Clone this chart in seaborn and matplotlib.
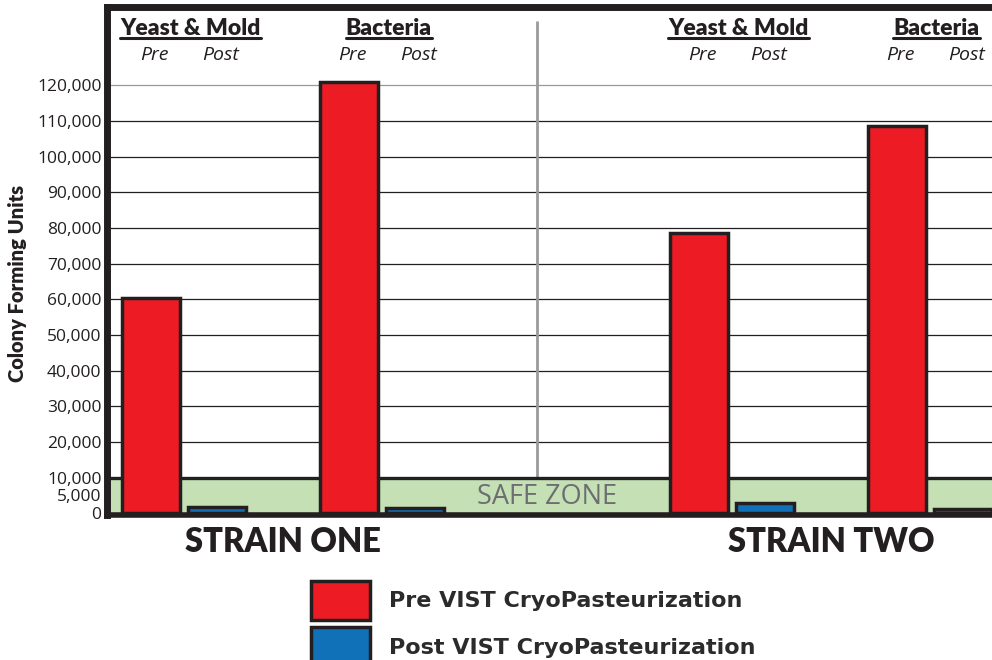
import pandas as pd
import matplotlib.pyplot as plt
from matplotlib.lines import Line2D
from matplotlib.patches import Patch
from matplotlib.font_manager import FontProperties
import seaborn as sns

strains = ['STRAIN ONE', 'STRAIN TWO']
organisms = ['Yeast & Mold', 'Bacteria']
stages = ['Pre', 'Post']
# order: S1 yeast&mold, S1 bacteria, S2 yeast&mold, S2 bacteria
pre_cfu = [60300, 121000, 78600, 108600]
post_cfu = [1700, 1400, 2800, 1100]
y_ticks = [0, 5000, 10000, 20000, 30000, 40000, 50000, 60000,
           70000, 80000, 90000, 100000, 110000, 120000]
safe_limit = 10000
legend_labels = ['Pre VIST CryoPasteurization', 'Post VIST CryoPasteurization']

RED = '#ed1c24'
BLUE = '#1071b9'
INK = '#231f20'
GREEN = '#c5e0b4'

# slot layout
strain_offset = [0, 8.3]
org_offset = [0, 3]

rows = []
for i, s in enumerate(strains):
    for j, o in enumerate(organisms):
        k = i * 2 + j
        base = strain_offset[i] + org_offset[j]
        rows.append(dict(strain=s, organism=o, stage='Pre', pos=base, cfu=pre_cfu[k]))
        rows.append(dict(strain=s, organism=o, stage='Post', pos=base + 1, cfu=post_cfu[k]))
df = pd.DataFrame(rows)

sns.set_theme(style='white')
plt.rcParams['font.family'] = ['Open Sans', 'DejaVu Sans']

fig = plt.figure(figsize=(9.92, 6.6), dpi=100)
ax = fig.add_axes([107 / 992, 1 - 515 / 660, 885 / 992, 508 / 660])

ymin, ymax = -500, 142000

# safe zone + grid
ax.axhspan(ymin, safe_limit, color=GREEN, zorder=0, lw=0)
for t in y_ticks:
    if t > safe_limit:
        ax.axhline(t, color='#999999' if t == max(y_ticks) else INK, lw=0.9, zorder=0.5)
ax.axhline(safe_limit, color=INK, lw=2.4, zorder=1)
divider = (df.loc[df.strain == strains[0], 'pos'].max() + df.loc[df.strain == strains[1], 'pos'].min()) / 2 - 0.3
ax.vlines(divider, safe_limit, 138000, color='#9a9a9a', lw=2, zorder=0.6)
ax.text(divider + 0.15, 4600, 'SAFE ZONE', ha='center', va='center',
        fontsize=19.5, color='#6d6e71', zorder=1)

sns.barplot(data=df, x='pos', y='cfu', hue='stage', hue_order=stages,
            palette=[RED, BLUE], saturation=1, native_scale=True, dodge=False,
            width=0.89, edgecolor=INK, linewidth=2.5, errorbar=None,
            legend=False, ax=ax, zorder=2)

ax.set_ylim(ymin, ymax)
ax.set_xlim(-0.667, 12.74)

for side in ['left', 'top', 'bottom']:
    ax.spines[side].set_color(INK)
ax.spines['left'].set_linewidth(5)
ax.spines['top'].set_linewidth(5)
ax.spines['bottom'].set_linewidth(4)
ax.spines['right'].set_visible(False)

ax.set_yticks(y_ticks)
ax.set_yticklabels([f'{v:,}' for v in y_ticks], fontsize=12.5, color=INK)
centers = df.groupby('strain', sort=False)['pos'].mean()
ax.set_xticks(centers.values)
ax.set_xticklabels(centers.index, fontsize=23.5, fontweight='heavy', color=INK,
                   family=['Lato', 'DejaVu Sans'])
ax.tick_params(axis='y', length=0, pad=4)
ax.tick_params(axis='x', length=0, pad=8)
ax.set_xlabel('')
ax.set_ylabel('')
ax.grid(False)

fig.text(18 / 992, 1 - 283 / 660, 'Colony Forming Units', rotation=90,
         ha='center', va='center', fontsize=14.5, fontweight='heavy', color=INK,
         family=['Lato', 'DejaVu Sans'])

# group headers
headers = []
for (s, o), g in df.groupby(['strain', 'organism'], sort=False):
    c = g['pos'].mean()
    t = ax.text(c + 0.1, 0.957, o, transform=ax.get_xaxis_transform(), ha='center',
                va='center', fontsize=16.5, fontweight='heavy', color=INK,
                family=['Lato', 'DejaVu Sans'])
    headers.append(t)
    for _, r in g.iterrows():
        ax.text(r['pos'] + 0.05, 0.905, r['stage'], transform=ax.get_xaxis_transform(),
                ha='center', va='center', fontsize=14, style='italic', color=INK)

fig.canvas.draw()
inv = fig.transFigure.inverted()
for t in headers:
    bb = t.get_window_extent()
    (x0, y0), (x1, _) = inv.transform([(bb.x0, bb.y0 + 1), (bb.x1, bb.y0)])
    fig.add_artist(Line2D([x0, x1], [y0, y0], color=INK, lw=2.2, transform=fig.transFigure))

handles = [Patch(facecolor=RED, edgecolor=INK, lw=2.5),
           Patch(facecolor=BLUE, edgecolor=INK, lw=2.5)]
fig.legend(handles, legend_labels, loc='upper left',
           bbox_to_anchor=(311 / 992, 1 - 581 / 660), frameon=False,
           prop=FontProperties(family=['DejaVu Sans'], weight='bold', size=16),
           labelcolor='#2b2b2b', handlelength=2.67, handleheight=2.3,
           handletextpad=0.85, labelspacing=0.35, borderpad=0, borderaxespad=0)

fig.savefig('out.png', dpi=100)
